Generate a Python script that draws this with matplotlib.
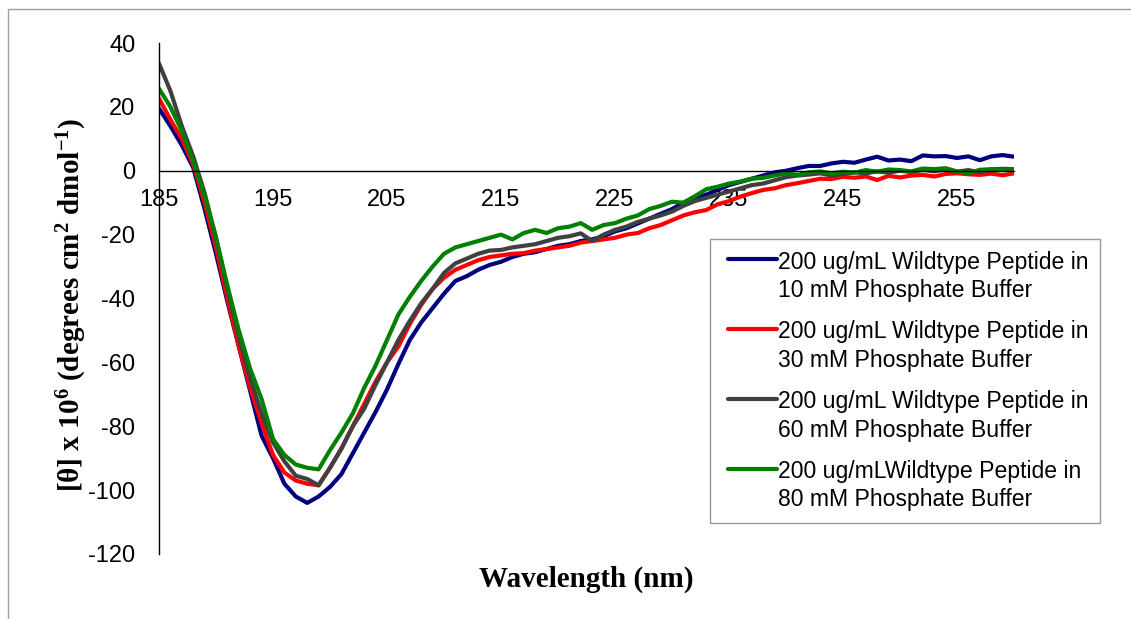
import numpy as np
import matplotlib
matplotlib.use("Agg")
import matplotlib.pyplot as plt
from matplotlib.patches import Rectangle

# 波长 (nm)
wavelength = np.arange(185, 261, 1)

# 10 mM
buf10 = [19.5, 14, 8, 1, -12, -26, -41, -55, -69, -83,
         -90, -98, -102, -104, -102, -99, -95, -88.5, -82, -75.5,
         -68.5, -60.5, -53, -47.5, -43, -38.5, -34.5, -33, -31, -29.5,
         -28.5, -27, -26, -25.5, -24.5, -23.5, -23, -22, -21.5, -20.5,
         -19, -18, -16.5, -15, -13.5, -12, -10, -8.5, -7.5, -6,
         -4.5, -3.5, -2.5, -1.5, -0.5, 0, 0.8, 1.5, 1.5, 2.3,
         2.8, 2.5, 3.5, 4.4, 3.2, 3.5, 3.0, 4.8, 4.5, 4.6,
         4.0, 4.5, 3.3, 4.5, 4.9, 4.4]
# 30 mM
buf30 = [22.6, 16, 10, 2, -10, -24, -40, -55, -68, -79,
         -89, -94.5, -97, -98, -98.5, -93, -87, -80, -73, -66,
         -60, -55, -48, -42, -37, -33.5, -31, -29.5, -28, -27,
         -26.5, -26, -25.8, -25, -24.5, -24, -23.5, -22.5, -22, -21.5,
         -21, -20, -19.5, -18, -17, -15.5, -14, -13, -12.3, -10.5,
         -9.5, -8.1, -7, -6, -5.5, -4.5, -3.9, -3.2, -2.5, -2.6,
         -1.9, -2.2, -1.8, -2.9, -1.6, -2.1, -1.5, -1.3, -1.8, -1.0,
         -0.8, -1.1, -1.3, -0.9, -1.4, -0.8]
# 60 mM
buf60 = [33.6, 25, 14, 4.5, -7, -21, -37, -52, -65, -76,
         -85, -91, -95.5, -96.5, -98.5, -93, -87, -80, -74.5, -67,
         -60, -53, -47, -41.5, -37, -32, -29, -27.5, -26, -25,
         -24.8, -24, -23.5, -23, -22, -21, -20.5, -19.6, -22, -20,
         -18.5, -17.5, -16, -15, -14, -12.8, -11, -9.5, -8.5, -7.5,
         -6.5, -5.5, -4.5, -4, -3, -2, -1.5, -1.2, -0.8, -1.5,
         -1.0, -0.5, -0.8, -0.2, -0.6, 0, -0.4, 0.3, -0.2, 0.5,
         -0.3, 0.2, -0.5, 0.4, 0.6, 0.5]
# 80 mM
buf80 = [25.7, 20, 12.5, 3, -8, -21, -36, -50, -62, -71.5,
         -84, -89, -92, -93, -93.5, -87.5, -82, -76, -68, -61,
         -53, -45, -39.5, -34.5, -30, -26, -24, -23, -22, -21,
         -20, -21.5, -19.5, -18.5, -19.5, -18, -17.5, -16.4, -18.5, -17,
         -16.4, -15, -14, -12, -11, -9.7, -10, -8, -5.8, -5,
         -4, -3.4, -2.5, -2.2, -1.5, -0.8, -1.3, -0.5, -0.2, -0.8,
         -0.3, -0.6, 0.2, -0.3, 0.4, 0.2, -0.2, 0.7, 0.5, 0.8,
         -0.2, -0.8, 0.3, 0.5, 0.2, 0.4]

labels = ["200 ug/mL Wildtype Peptide in\n10 mM Phosphate Buffer",
          "200 ug/mL Wildtype Peptide in\n30 mM Phosphate Buffer",
          "200 ug/mL Wildtype Peptide in\n60 mM Phosphate Buffer",
          "200 ug/mLWildtype Peptide in\n80 mM Phosphate Buffer"]
colors = ["#000080", "#FF0000", "#404040", "#008000"]
series = [buf10, buf30, buf60, buf80]

x_ticks = [185, 195, 205, 215, 225, 235, 245, 255]
y_ticks = [-120, -100, -80, -60, -40, -20, 0, 20, 40]

plt.rcParams['font.family'] = ['Liberation Sans', 'DejaVu Sans']
plt.rcParams['mathtext.default'] = 'regular'
plt.rcParams['axes.unicode_minus'] = False

W, H = 1131, 619
fig = plt.figure(figsize=(W / 100, H / 100), dpi=100)
ax = fig.add_axes([159 / W, 1 - 554 / H, 855 / W, 511 / H])

for y, c, lab in zip(series, colors, labels):
    ax.plot(wavelength, y, color=c, lw=3, label=lab,
            solid_joinstyle='round', solid_capstyle='round')

ax.set_xlim(185, 260)
ax.set_ylim(-120, 40)
ax.set_xticks(x_ticks)
ax.set_yticks(y_ticks)
ax.tick_params(axis='both', length=0, labelsize=17)
ax.tick_params(axis='x', pad=13)
ax.tick_params(axis='y', pad=17)

ax.spines['top'].set_visible(False)
ax.spines['right'].set_visible(False)
ax.spines['bottom'].set_position(('data', 0))
ax.spines['bottom'].set_linewidth(1)
ax.spines['left'].set_linewidth(1)

ax.set_xlabel("Wavelength (nm)", family='Liberation Serif', weight='bold',
              fontsize=21, va='center')
ax.xaxis.set_label_coords(0.5, -0.049)
ax.set_ylabel(r"[θ] x 10$^{6}$ (degrees cm$^{2}$ dmol$^{-1}$)",
              family='Liberation Serif', weight='bold', fontsize=21, va='center')
ax.yaxis.set_label_coords(-0.102, 0.487)

leg_fs = 16.6
leg = ax.legend(loc='upper left', bbox_to_anchor=(710 / W, 1 - 239 / H),
                bbox_transform=fig.transFigure, borderaxespad=0,
                fancybox=False, frameon=True, fontsize=leg_fs,
                handlelength=2.4, handletextpad=0.05, labelspacing=0.8,
                borderpad=0.5)
leg.get_frame().set_edgecolor('#808080')
leg.get_frame().set_linewidth(1)
for t in leg.get_texts():
    t.set_linespacing(1.3)
# 图例线放在第一行文字旁边 (Excel 风格)
for ln in leg.get_lines():
    yd = np.asarray(ln.get_ydata(), dtype=float)
    xd = np.asarray(ln.get_xdata(), dtype=float).copy()
    xd[0] += 5
    ln.set_data(xd, yd + 13)
    ln.set_solid_capstyle('round')

# 图表外框
fig.patches.append(Rectangle((8 / W, -0.1), 1.2, 1 - 9 / H + 0.1,
                             transform=fig.transFigure, fill=False,
                             edgecolor='#A0A0A0', lw=1))

fig.savefig("out.png", dpi=100)
